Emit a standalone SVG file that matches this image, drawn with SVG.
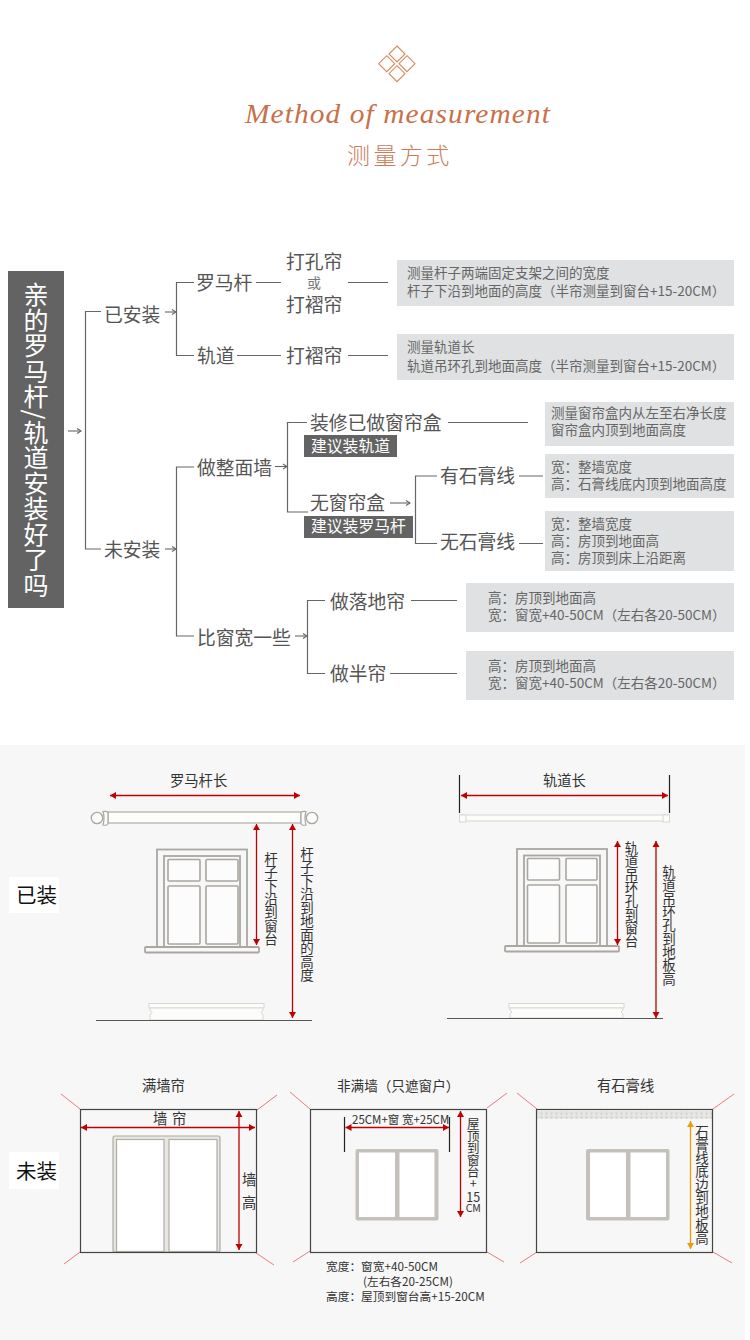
<svg xmlns="http://www.w3.org/2000/svg" width="750" height="1340" viewBox="0 0 750 1340">
<style>
text{font-family:"Noto Sans CJK SC","Noto Sans",sans-serif;fill:#555}
.h{font-size:18.800px}
.b{font-size:13.500px;fill:#666}
.w{fill:#fff;font-size:15.800px}
.l{font-size:14.300px;fill:#333}
.v{font-size:13.500px;fill:#333;text-anchor:middle}
.c{fill:none;stroke:#666;stroke-width:1.2}
.a{fill:none;stroke:#666;stroke-width:1.1;marker-end:url(#open)}
.box{fill:#dfe1e2}
.badge{fill:#636363}
.red{fill:none;stroke:#c00000;stroke-width:1.3;marker-start:url(#rs);marker-end:url(#rs)}
.org{fill:none;stroke:#e89a10;stroke-width:1.3;marker-start:url(#os);marker-end:url(#os)}
.fr{fill:#f7f7f7;stroke:#aaa6a0;stroke-width:1.8}
.pn{fill:#fcfcfc;stroke:#aaa6a0;stroke-width:1.6}
.sk{fill:#fcfcfa;stroke:#d8d6d0;stroke-width:1}
.room{fill:none;stroke:#444;stroke-width:1.2}
.cor{fill:none;stroke:#e87c7c;stroke-width:1}
.tick{fill:none;stroke:#222;stroke-width:1.2}
.floor{fill:none;stroke:#555;stroke-width:1.2}
.dia{fill:none;stroke:#d98a5e;stroke-width:1.1}
</style>
<defs>
<marker id="open" markerUnits="userSpaceOnUse" markerWidth="7" markerHeight="10" refX="6" refY="5" orient="auto"><path d="M2,2.500 L6,5 L2,7.500" fill="none" stroke="#666" stroke-width="1.100"/></marker>
<marker id="rs" markerUnits="userSpaceOnUse" markerWidth="7" markerHeight="8" refX="6" refY="4" orient="auto-start-reverse"><path d="M0,0.500 L6,4 L0,7.500Z" fill="#c00000"/></marker>
<marker id="os" markerUnits="userSpaceOnUse" markerWidth="7" markerHeight="8" refX="6" refY="4" orient="auto-start-reverse"><path d="M0,0.500 L6,4 L0,7.500Z" fill="#e89a10"/></marker>
<pattern id="dots" width="5" height="4" patternUnits="userSpaceOnUse"><rect width="5" height="4" fill="#e4e4e2"/><circle cx="1.500" cy="1.500" r="1" fill="#d0d0ce"/><circle cx="4" cy="3" r="0.800" fill="#f2f2f2"/></pattern>
</defs>
<rect width="750" height="1340" fill="#fff"/>
<g id="title">
<path class="dia" d="M397,46 L405,54 L397,62 L389,54Z M386.700,55.700 L394.700,63.700 L386.700,71.700 L378.700,63.700Z M407,55.700 L415,63.700 L407,71.700 L399,63.700Z M397,65.700 L405,73.700 L397,81.700 L389,73.700Z"/>
<text x="245" y="123" textLength="306" lengthAdjust="spacingAndGlyphs" style="font-family:'Liberation Serif',serif;font-style:italic;font-size:27px;letter-spacing:1px;fill:#c9704a">Method of measurement</text>
<text x="347" y="164" style="font-size:23px;letter-spacing:3.400px;fill:#cc7c58;font-weight:300">测量方式</text>
</g>
<g id="connectors">
<path class="a" d="M68,431 H81"/>
<path class="c" d="M101,311.500 H85.500 V549 H101"/>
<path class="a" d="M165,312 H176"/>
<path class="a" d="M165,549 H176"/>
<path class="c" d="M194,282.500 H176.500 V355.500 H194"/>
<path class="c" d="M256,282.500 H281 M348,282.500 H388 M237,355.500 H281 M348,355.500 H388"/>
<path class="c" d="M194,467 H176.500 V636 H194"/>
<path class="a" d="M275,466.500 H287"/>
<path class="c" d="M307,422.500 H287.500 V512 H308"/>
<path class="c" d="M448,422.500 H528"/>
<path class="a" d="M390,503 H410"/>
<path class="c" d="M437,476 H415.500 V543.500 H437"/>
<path class="c" d="M519,476 H543 M519,543.500 H543"/>
<path class="a" d="M295,636 H307"/>
<path class="c" d="M325,600.500 H307.500 V673.500 H325"/>
<path class="c" d="M411,600.500 H457 M390,673.500 H457"/>
</g>
<g id="root"><rect x="8" y="271" width="56" height="337" fill="#636363"/>
<text x="36" y="282" style="writing-mode:vertical-rl;font-size:25px;letter-spacing:0.500px;fill:#fff">亲的罗马杆/轨道安装好了吗</text></g>
<g id="n-installed"><text class="h" x="104" y="322">已安装</text></g>
<g id="n-not-installed"><text class="h" x="104" y="557">未安装</text></g>
<g id="n-rod"><text class="h" x="196" y="290">罗马杆</text></g>
<g id="n-track"><text class="h" x="197" y="363">轨道</text></g>
<g id="n-curtain1"><text class="h" x="286" y="269">打孔帘</text><text x="314" y="288" text-anchor="middle" style="font-size:14px;fill:#777">或</text><text class="h" x="286" y="312">打褶帘</text></g>
<g id="n-curtain2"><text class="h" x="286" y="363">打褶帘</text></g>
<g id="i-rod"><rect class="box" x="397" y="260" width="337" height="46"/><text class="b" x="407" y="278">测量杆子两端固定支架之间的宽度</text><text class="b" x="407" y="296">杆子下沿到地面的高度（半帘测量到窗台+15-20CM）</text></g>
<g id="i-track"><rect class="box" x="397" y="334" width="337" height="46"/><text class="b" x="407" y="352">测量轨道长</text><text class="b" x="407" y="371">轨道吊环孔到地面高度（半帘测量到窗台+15-20CM）</text></g>
<g id="n-wall"><text class="h" x="197" y="475">做整面墙</text></g>
<g id="n-box"><text class="h" x="310" y="430">装修已做窗帘盒</text><rect class="badge" x="304" y="435" width="93" height="22"/><text class="w" x="311" y="452">建议装轨道</text></g>
<g id="n-nobox"><text class="h" x="310" y="510">无窗帘盒</text><rect class="badge" x="304" y="516" width="109" height="22"/><text class="w" x="311" y="532">建议装罗马杆</text></g>
<g id="n-plaster"><text class="h" x="440" y="483">有石膏线</text></g>
<g id="n-noplaster"><text class="h" x="440" y="549">无石膏线</text></g>
<g id="i-box"><rect class="box" x="545" y="402" width="189" height="44"/><text class="b" x="551" y="418">测量窗帘盒内从左至右净长度</text><text class="b" x="551" y="435">窗帘盒内顶到地面高度</text></g>
<g id="i-plaster"><rect class="box" x="545" y="454" width="189" height="44"/><text class="b" x="551" y="472">宽：整墙宽度</text><text class="b" x="551" y="489">高：石膏线底内顶到地面高度</text></g>
<g id="i-noplaster"><rect class="box" x="545" y="511" width="189" height="60"/><text class="b" x="551" y="529">宽：整墙宽度</text><text class="b" x="551" y="546">高：房顶到地面高</text><text class="b" x="551" y="563">高：房顶到床上沿距离</text></g>
<g id="n-wider"><text class="h" x="197" y="645">比窗宽一些</text></g>
<g id="n-floor"><text class="h" x="330" y="609">做落地帘</text></g>
<g id="n-half"><text class="h" x="330" y="681">做半帘</text></g>
<g id="i-floor"><rect class="box" x="466" y="583" width="268" height="49"/><text class="b" x="488" y="603">高：房顶到地面高</text><text class="b" x="488" y="620">宽：窗宽+40-50CM（左右各20-50CM）</text></g>
<g id="i-half"><rect class="box" x="466" y="651" width="268" height="49"/><text class="b" x="488" y="671">高：房顶到地面高</text><text class="b" x="488" y="688">宽：窗宽+40-50CM（左右各20-50CM）</text></g>

<rect x="0" y="745" width="745" height="595" fill="#f7f7f7"/>
<g id="label-installed"><rect x="9" y="877" width="50" height="36" fill="#fff"/><text x="16" y="903" style="font-size:20.500px;fill:#111">已装</text></g>
<g id="label-not"><rect x="9" y="1152" width="50" height="37" fill="#fff"/><text x="16" y="1179" style="font-size:20.500px;fill:#111">未装</text></g>

<g id="rod-diagram">
<text class="l" x="170" y="786">罗马杆长</text>
<path class="red" d="M110,795.500 H300"/>
<rect x="108" y="812" width="193" height="11" fill="#fdfdfb" stroke="#b8b4ae" stroke-width="1.300"/>
<circle cx="97" cy="818" r="5.700" fill="#fbfbfb" stroke="#aaa6a0" stroke-width="1.300"/>
<path d="M103,811.500 Q108,811 108,813 V823 Q108,826 103,825 Q105,818 103,811.500Z" fill="#fbfbfb" stroke="#aaa6a0" stroke-width="1.200"/>
<circle cx="312" cy="818" r="5.700" fill="#fbfbfb" stroke="#aaa6a0" stroke-width="1.300"/>
<path d="M306,811.500 Q301,811 301,813 V823 Q301,826 306,825 Q304,818 306,811.500Z" fill="#fbfbfb" stroke="#aaa6a0" stroke-width="1.200"/>
<rect class="fr" x="157" y="849.500" width="90" height="98"/>
<rect class="fr" x="164" y="856" width="76" height="91"/>
<rect class="pn" x="168" y="859.500" width="32" height="21.500" rx="1"/><rect class="pn" x="206" y="859.500" width="32" height="21.500" rx="1"/>
<rect class="pn" x="168" y="886" width="32" height="58" rx="1"/><rect class="pn" x="206" y="886" width="32" height="58" rx="1"/>
<rect class="fr" x="145" y="947" width="114" height="5.500" rx="1"/>
<path class="red" d="M256.500,824 V945"/>
<path class="red" d="M292.500,824 V1018"/>
<text class="v" x="271 271 271 271 271 271 271" y="864 877.300 890.600 904 917.300 930.600 944">杆子下沿到窗台</text>
<text class="v" x="307 307 307 307 307 307 307 307 307 307" y="858.500 872 885.500 899 912.500 926 939.500 953 966.500 980">杆子下沿到地面的高度</text>
<rect class="sk" x="149" y="1003.500" width="115" height="4.500"/><path class="sk" d="M150,1008 H263 V1010 L261,1012.500 L263,1015 V1020 H150 V1015 L152,1012.500 L150,1010Z"/>
<path class="floor" d="M96,1020.500 H312"/>
</g>

<g id="track-diagram">
<text class="l" x="543" y="786">轨道长</text>
<path class="tick" d="M459.500,775 V813 M669.500,775 V813"/>
<path class="red" d="M461,795.500 H668"/>
<rect class="sk" x="459.500" y="815" width="210" height="6"/><rect class="sk" x="459.500" y="815" width="6.500" height="7"/><rect class="sk" x="663" y="815" width="6.500" height="7"/>
<rect class="fr" x="517" y="849" width="90" height="97"/>
<rect class="fr" x="524" y="855.500" width="76" height="90.500"/>
<rect class="pn" x="527.500" y="858.500" width="32" height="21.500" rx="1"/><rect class="pn" x="566" y="858.500" width="31" height="21.500" rx="1"/>
<rect class="pn" x="527.500" y="885" width="32" height="58" rx="1"/><rect class="pn" x="566" y="885" width="31" height="58" rx="1"/>
<rect class="fr" x="505" y="946" width="114" height="5.500" rx="1"/>
<path class="red" d="M617.500,841 V945"/>
<path class="red" d="M656,841 V1018"/>
<text class="v" x="631.500 631.500 631.500 631.500 631.500 631.500 631.500 631.500" y="853 866.300 879.600 893 906.300 919.600 933 946.300">轨道吊环孔到窗台</text>
<text class="v" x="669 669 669 669 669 669 669 669 669" y="877 890.300 903.600 917 930.300 943.600 957 970.300 983.600">轨道吊环孔到地板高</text>
<rect class="sk" x="509" y="1003.500" width="115" height="4.500"/><path class="sk" d="M510,1008 H623 V1010 L621,1012 L623,1014 V1018 H510 V1014 L512,1012 L510,1010Z"/>
<path class="floor" d="M447,1018.500 H663"/>
</g>

<g id="room-full">
<text class="l" x="142" y="1091">满墙帘</text>
<path class="cor" d="M61,1094 L80,1109 M277,1095 L257,1110 M80,1252 L64,1264 M256,1253 L274,1265"/>
<rect x="113" y="1136" width="107" height="116" rx="2" fill="#e8e6e2" stroke="#b0aca6" stroke-width="1.200"/>
<rect x="116.500" y="1139.500" width="47.500" height="112" fill="#fff" stroke="#b0aca6" stroke-width="1.200"/>
<rect x="169" y="1139.500" width="48" height="112" fill="#fff" stroke="#b0aca6" stroke-width="1.200"/>
<rect class="room" x="80.500" y="1109.500" width="176" height="143"/>
<text class="l" x="153" y="1124">墙</text><text class="l" x="172" y="1124">帘</text>
<path class="red" d="M81,1127.500 H255"/>
<path class="red" d="M239,1111 V1250"/>
<text class="l" x="242" y="1185">墙</text><text class="l" x="242" y="1208">高</text>
</g>

<g id="room-partial">
<text x="337" y="1091" style="font-size:13.600px;fill:#333">非满墙（只遮窗户）</text>
<path class="cor" d="M290,1092 L310,1109 M507,1093 L487,1108 M310,1251 L293,1262 M487,1252 L504,1262"/>
<rect class="room" x="310.500" y="1109.500" width="176" height="143"/>
<path class="tick" d="M344.500,1117 V1152 M449.500,1117 V1152"/>
<text x="352" y="1124" style="font-size:11.500px;fill:#333">25CM+窗 宽+25CM</text>
<path class="red" d="M345.500,1127.500 H449"/>
<path class="red" d="M460.500,1111 V1217"/>
<text class="v" style="font-size:12.500px"><tspan x="473.300 473.300 473.300 473.300 473.300 473.300" y="1129 1141 1153 1165 1177 1188">屋顶到窗台+</tspan><tspan x="473.300" y="1201.500">15</tspan><tspan x="473.300" y="1211.500" style="font-size:10.500px">CM</tspan></text>
<rect x="355.500" y="1149" width="83" height="71.500" rx="2" fill="#c4c1bb"/>
<rect x="359" y="1152.500" width="36" height="64.500" fill="#fff"/><rect x="399.500" y="1152.500" width="35" height="64.500" fill="#fff"/>
<text x="326" y="1271" style="font-size:11.700px;fill:#333">宽度：窗宽+40-50CM</text>
<text x="363" y="1286" style="font-size:11.700px;fill:#333">(左右各20-25CM)</text>
<text x="326" y="1301" style="font-size:11.700px;fill:#333">高度：屋顶到窗台高+15-20CM</text>
</g>

<g id="room-plaster">
<text class="l" x="597" y="1091">有石膏线</text>
<path class="cor" d="M517,1093 L537,1109 M734,1094 L713,1109 M537,1252 L520,1263 M713,1252 L732,1263"/>
<rect x="537" y="1111" width="176" height="8" fill="url(#dots)"/>
<rect class="room" x="536.500" y="1109.500" width="176" height="143"/>
<rect x="586" y="1149" width="83.500" height="71.500" rx="2" fill="#c4c1bb"/>
<rect x="590" y="1152.500" width="36" height="64.500" fill="#fff"/><rect x="630.500" y="1152.500" width="35.500" height="64.500" fill="#fff"/>
<path class="org" d="M690.500,1121 V1249"/>
<text class="v" x="702 702 702 702 702 702 702 702 702" y="1136.500 1149.800 1163.100 1176.400 1189.700 1203 1216.300 1229.600 1242.900">石膏线底边到地板高</text>
</g>
</svg>
